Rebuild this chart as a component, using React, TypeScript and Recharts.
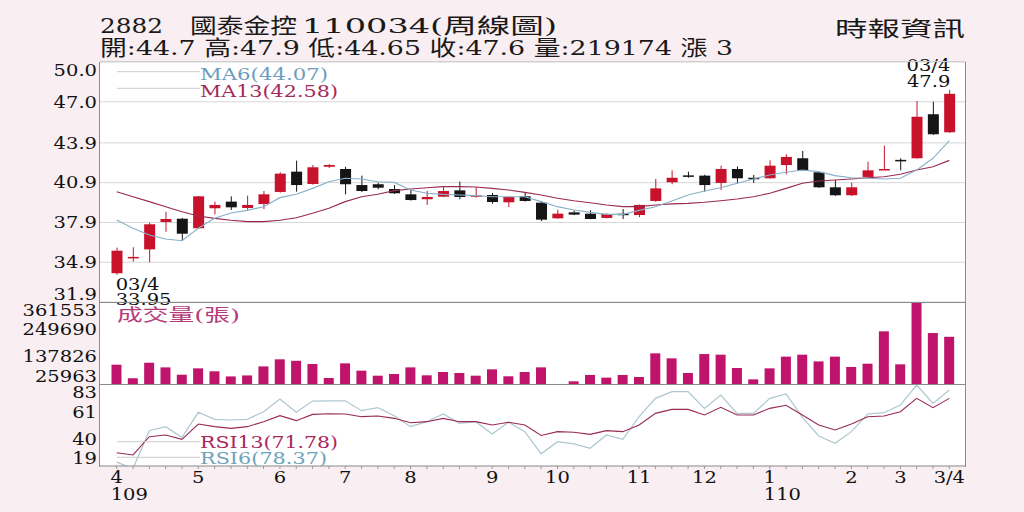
import React from 'react';
import { ComposedChart, Bar, Line, XAxis, YAxis, CartesianGrid, ReferenceDot } from 'recharts';

// weekly candles, 109/04 .. 110/03/04
const opens = [34.07, 35.2, 35.87, 37.93, 38.18, 37.46, 38.97, 39.47, 38.99, 39.29, 40.2, 41.73, 40.8, 42.1, 41.93, 40.72, 40.78, 40.42, 40.02, 39.65, 39.84, 40.32, 39.9, 39.97, 39.42, 39.87, 39.39, 38.21, 38.66, 38.56, 38.24, 38.56, 38.46, 39.52, 40.93, 41.45, 41.43, 40.88, 41.93, 41.27, 41.23, 42.23, 42.74, 41.68, 40.55, 39.95, 41.33, 41.88, 42.62, 42.74, 46.06, 44.7];
const highs = [36.0, 36.03, 37.88, 38.71, 38.24, 39.9, 39.47, 39.87, 39.92, 40.27, 41.68, 42.56, 42.23, 42.3, 42.1, 41.43, 40.9, 40.72, 40.37, 40.27, 40.57, 40.98, 40.57, 40.12, 39.87, 40.12, 39.52, 38.86, 38.8, 38.81, 38.58, 38.91, 39.25, 41.18, 41.83, 41.73, 41.5, 42.18, 42.13, 41.48, 42.59, 43.04, 43.29, 41.73, 41.1, 40.9, 42.48, 43.69, 42.74, 47.06, 47.01, 47.9];
const lows = [33.95, 34.94, 34.89, 37.2, 36.55, 37.4, 38.51, 38.84, 38.84, 38.91, 40.15, 40.22, 40.75, 42.0, 40.02, 40.2, 40.4, 40.05, 39.55, 39.22, 39.8, 39.65, 39.77, 39.31, 39.06, 39.47, 38.0, 38.18, 38.45, 38.14, 38.2, 38.16, 38.3, 39.45, 40.78, 41.27, 40.22, 40.35, 40.85, 40.88, 41.2, 41.53, 41.8, 40.5, 39.9, 39.9, 41.3, 41.85, 41.83, 42.7, 44.5, 44.65];
const closes = [35.77, 35.3, 37.76, 38.16, 37.05, 39.87, 39.22, 39.04, 39.22, 40.02, 41.58, 40.72, 42.06, 42.23, 40.78, 40.27, 40.52, 40.1, 39.59, 39.82, 40.27, 39.82, 39.95, 39.44, 39.82, 39.52, 38.11, 38.56, 38.49, 38.16, 38.54, 38.46, 39.22, 40.47, 41.27, 41.4, 40.72, 41.93, 41.23, 41.2, 42.18, 42.84, 41.83, 40.55, 39.95, 40.55, 41.83, 41.93, 42.57, 45.87, 44.55, 47.6];
const ma6 = [38.08, 37.46, 36.95, 36.65, 36.52, 37.46, 38.21, 38.61, 38.81, 39.09, 39.77, 40.02, 40.47, 40.97, 41.23, 41.18, 40.97, 40.92, 40.35, 40.1, 40.02, 39.97, 39.92, 39.84, 39.84, 39.84, 39.47, 39.09, 38.84, 38.66, 38.51, 38.51, 38.81, 39.09, 39.52, 39.97, 40.27, 40.52, 40.85, 41.18, 41.48, 41.68, 41.86, 41.73, 41.43, 41.27, 41.23, 41.18, 41.23, 41.86, 42.74, 44.07];
const ma13 = [40.22, 39.84, 39.47, 39.09, 38.71, 38.39, 38.21, 38.06, 37.96, 37.96, 38.06, 38.26, 38.59, 38.97, 39.47, 39.84, 40.02, 40.3, 40.42, 40.52, 40.6, 40.6, 40.57, 40.47, 40.35, 40.17, 39.97, 39.72, 39.54, 39.39, 39.22, 39.09, 39.09, 39.22, 39.3, 39.34, 39.42, 39.54, 39.67, 39.84, 40.1, 40.47, 40.85, 41.03, 41.1, 41.18, 41.27, 41.35, 41.53, 41.86, 42.1, 42.58];
const volumes = [105000, 49000, 113000, 94000, 64000, 90000, 78000, 57000, 61000, 98000, 127000, 121000, 108000, 50500, 110500, 80500, 60000, 67000, 94000, 61500, 75000, 71000, 60000, 86000, 57500, 75000, 94000, 25963, 37000, 63000, 52000, 63000, 54500, 151500, 131000, 71000, 148500, 146000, 91500, 45000, 90000, 138000, 146000, 118500, 138000, 95500, 109000, 241500, 106500, 361553, 234500, 219174];
const rsi6 = [22, 17, 46.6, 49.7, 41.4, 60.9, 55.4, 54.9, 55.4, 61.4, 71.3, 60.9, 69.7, 69.9, 69.9, 62.2, 64.5, 58.3, 49.7, 53.6, 59.6, 52.3, 53.6, 44.0, 53.1, 45.8, 28.5, 38.0, 36.2, 32.8, 43.2, 39.8, 57.5, 71.8, 77.0, 77.0, 64.0, 74.4, 60.1, 60.1, 71.8, 75.2, 57.0, 42.4, 36.7, 45.8, 59.6, 60.6, 66.6, 82.2, 67.9, 78.37];
const rsi13 = [29.4, 27.6, 41.9, 43.2, 39.8, 51.8, 49.7, 48.4, 49.7, 53.6, 58.3, 54.4, 59.3, 59.8, 59.6, 57.5, 58.0, 56.2, 52.8, 53.6, 56.2, 53.6, 53.6, 51.0, 53.1, 51.0, 42.8, 45.8, 45.3, 43.7, 46.6, 45.8, 51.0, 60.1, 63.2, 63.2, 58.8, 64.8, 58.8, 58.8, 64.0, 66.4, 58.8, 51.0, 47.1, 51.8, 57.5, 58.0, 61.4, 71.8, 64.5, 71.78];
const monthLabels = [
  '4', '', '', '', '', '5', '', '', '', '', '6', '', '', '', '7', '', '', '', '8', '', '', '', '',
  '9', '', '', '', '10', '', '', '', '', '11', '', '', '', '12', '', '', '', '1', '', '', '', '',
  '2', '', '', '3', '', '', '3/4',
];
const yearLabels: Record<number, string> = { 0: '109', 40: '110' };
const priceTicks = [31.9, 34.9, 37.9, 40.9, 43.9, 47.0, 50.0];
const volumeTicks = [25963, 137826, 249690, 361553];
const rsiTicks = [19, 40, 61, 83];

const data = opens.map((o, i) => ({
  idx: i,
  open: o,
  high: highs[i],
  low: lows[i],
  close: closes[i],
  range: [lows[i], highs[i]],
  volume: volumes[i],
  ma6: ma6[i],
  ma13: ma13[i],
  rsi6: rsi6[i],
  rsi13: rsi13[i],
}));

const BG = '#f9eef1';
const RED = '#c8122c';
const BLACK = '#151515';
const VOL = '#c0136b';
const NUM_FONT = '"DejaVu Serif", serif';
const CJK_FONT = '"DejaVu Serif", "Noto Sans CJK TC", serif';
const SX = 1.22;
const XPAD = { left: 8.5, right: 8.5 };

const Candle = (props: any) => {
  const { x, y, width, height, payload } = props;
  const { open, close, high, low } = payload;
  const color = close >= open ? RED : BLACK;
  const top = Math.min(y, y + height);
  const h = Math.abs(height);
  const k = high === low ? 0 : h / (high - low);
  const bodyTop = top + (high - Math.max(open, close)) * k;
  const bodyH = Math.max(Math.abs(open - close) * k, 1.5);
  const cx = x + width / 2;
  return (
    <g>
      <line x1={cx} x2={cx} y1={top} y2={top + h} stroke={color} strokeWidth={1} />
      <rect x={x} y={bodyTop} width={width} height={bodyH} fill={color} />
    </g>
  );
};

const makeYTick = (min: number, max: number, fmt: (v: number) => string) => (props: any) => {
  const { x, y, payload } = props;
  const v = payload.value;
  const dy = v === max ? 8 : v === min ? -8 : 0;
  return (
    <g transform={`translate(${x},${y + dy}) scale(${SX},1)`}>
      <text x={0} y={0} dy="0.36em" textAnchor="end" fontSize={16} fontFamily={NUM_FONT} fill="#111">
        {fmt(v)}
      </text>
    </g>
  );
};

const XTick = (props: any) => {
  const { x, y, payload } = props;
  const m = monthLabels[payload.value];
  const yr = yearLabels[payload.value];
  return (
    <g>
      {m ? (
        <g transform={`translate(${x},${y + 12}) scale(${SX},1)`}>
          <text x={0} y={0} textAnchor="middle" fontSize={16} fontFamily={NUM_FONT} fill="#111">{m}</text>
        </g>
      ) : null}
      {yr ? (
        <g transform={`translate(${x - 6},${y + 29}) scale(${SX},1)`}>
          <text x={0} y={0} textAnchor="start" fontSize={16} fontFamily={NUM_FONT} fill="#111">{yr}</text>
        </g>
      ) : null}
    </g>
  );
};

const HighLabel = (props: any) => {
  const vb = props.viewBox || { x: 0, y: 0, width: 0, height: 0 };
  const cx = vb.x + vb.width / 2;
  const cy = vb.y + vb.height / 2;
  return (
    <g>
      <g transform={`translate(${cx + 1},${cy - 19}) scale(${SX},1)`}>
        <text textAnchor="end" fontSize={16} fontFamily={NUM_FONT} fill="#111">03/4</text>
      </g>
      <g transform={`translate(${cx + 1},${cy - 3}) scale(${SX},1)`}>
        <text textAnchor="end" fontSize={16} fontFamily={NUM_FONT} fill="#111">47.9</text>
      </g>
    </g>
  );
};

const LowLabel = (props: any) => {
  const vb = props.viewBox || { x: 0, y: 0, width: 0, height: 0 };
  const cx = vb.x + vb.width / 2;
  const cy = vb.y + vb.height / 2;
  return (
    <g>
      <g transform={`translate(${cx - 1},${cy + 15}) scale(${SX},1)`}>
        <text textAnchor="start" fontSize={16} fontFamily={NUM_FONT} fill="#111">03/4</text>
      </g>
      <g transform={`translate(${cx - 1},${cy + 30}) scale(${SX},1)`}>
        <text textAnchor="start" fontSize={16} fontFamily={NUM_FONT} fill="#111">33.95</text>
      </g>
    </g>
  );
};

const legendText = (x: number, y: number, w: number, color: string, s: string, size = 17) => (
  <text x={x} y={y} fontSize={size} fontFamily={CJK_FONT} fill={color} textLength={w} lengthAdjust="spacingAndGlyphs">
    {s}
  </text>
);

export default function App() {
  return (
    <div style={{ position: 'fixed', left: 0, top: 0, width: 1024, height: 512, background: BG, overflow: 'hidden' }}>
      <svg width={1024} height={512} style={{ position: 'absolute', left: 0, top: 0 }}>
        <rect x={100} y={62} width={866} height={404} fill="#fff" />
        <g fontFamily={CJK_FONT} fontSize={21} fill="#1a1a1a">
          <text x={100} y={33} textLength={63} lengthAdjust="spacingAndGlyphs">2882</text>
          <text x={190} y={33} textLength={107} lengthAdjust="spacingAndGlyphs">國泰金控</text>
          <text x={302} y={33} textLength={255} lengthAdjust="spacingAndGlyphs">110034(周線圖)</text>
          <text x={100} y={55} textLength={633} lengthAdjust="spacingAndGlyphs">開:44.7 高:47.9 低:44.65 收:47.6 量:219174 漲 3</text>
          <text x={835} y={36} textLength={130} lengthAdjust="spacingAndGlyphs">時報資訊</text>
        </g>
      </svg>

      {/* price panel: plot area y 62..302 */}
      <div style={{ position: 'absolute', left: 0, top: 0 }}>
        <ComposedChart width={1024} height={322} data={data} margin={{ top: 62, right: 58, left: 0, bottom: 20 }}>
          <CartesianGrid vertical={false} stroke="#d6d6d6" />
          <XAxis dataKey="idx" type="category" scale="band" hide padding={XPAD} />
          <YAxis
            domain={[31.9, 50.0]}
            ticks={priceTicks}
            interval={0}
            allowDataOverflow
            width={100}
            tickSize={0}
            tickMargin={3}
            axisLine={false}
            tickLine={false}
            tick={makeYTick(31.9, 50.0, (v) => v.toFixed(1))}
          />
          <Line dataKey="ma13" stroke="#992a52" strokeWidth={1.1} dot={false} isAnimationActive={false} />
          <Line dataKey="ma6" stroke="#86b0c8" strokeWidth={1.1} dot={false} isAnimationActive={false} />
          <Bar dataKey="range" barSize={11} shape={<Candle />} isAnimationActive={false} />
          <ReferenceDot x={51} y={47.9} r={0} fill="none" stroke="none" label={<HighLabel />} />
          <ReferenceDot x={0} y={33.95} r={0} fill="none" stroke="none" label={<LowLabel />} />
        </ComposedChart>
      </div>

      {/* volume panel: plot area y 302..384 */}
      <div style={{ position: 'absolute', left: 0, top: 290 }}>
        <ComposedChart width={1024} height={106} data={data} margin={{ top: 12, right: 58, left: 0, bottom: 12 }}>
          <XAxis dataKey="idx" type="category" scale="band" hide padding={XPAD} />
          <YAxis
            domain={[25963, 361553]}
            ticks={volumeTicks}
            interval={0}
            allowDataOverflow
            width={100}
            tickSize={0}
            tickMargin={3}
            axisLine={false}
            tickLine={false}
            tick={makeYTick(25963, 361553, (v) => String(v))}
          />
          <Bar dataKey="volume" barSize={10} fill={VOL} isAnimationActive={false} />
        </ComposedChart>
      </div>

      {/* RSI panel: plot area y 384..466 */}
      <div style={{ position: 'absolute', left: 0, top: 372 }}>
        <ComposedChart width={1024} height={140} data={data} margin={{ top: 12, right: 58, left: 0, bottom: 0 }}>
          <XAxis
            dataKey="idx"
            type="category"
            scale="band"
            padding={XPAD}
            interval={0}
            height={46}
            tickSize={3}
            tickMargin={2}
            tickLine={{ stroke: '#999' }}
            axisLine={{ stroke: '#888' }}
            tick={<XTick />}
          />
          <YAxis
            domain={[19, 83]}
            ticks={rsiTicks}
            interval={0}
            allowDataOverflow
            width={100}
            tickSize={0}
            tickMargin={3}
            axisLine={false}
            tickLine={false}
            tick={makeYTick(19, 83, (v) => String(v))}
          />
          <Line dataKey="rsi6" stroke="#adc7d0" strokeWidth={1.2} dot={false} isAnimationActive={false} />
          <Line dataKey="rsi13" stroke="#992a52" strokeWidth={1.1} dot={false} isAnimationActive={false} />
        </ComposedChart>
      </div>

      <svg width={1024} height={512} style={{ position: 'absolute', left: 0, top: 0, pointerEvents: 'none' }}>
        <line x1={100} x2={966} y1={61.5} y2={61.5} stroke="#cfcfcf" />
        <line x1={99.5} x2={99.5} y1={62} y2={467} stroke="#8a8a8a" />
        <line x1={965.5} x2={965.5} y1={62} y2={467} stroke="#8a8a8a" />
        <line x1={100} x2={966} y1={302.5} y2={302.5} stroke="#8a8a8a" strokeWidth={1.2} />
        <line x1={100} x2={966} y1={384.5} y2={384.5} stroke="#8a8a8a" strokeWidth={1.2} />
        <line x1={117} x2={200} y1={71.7} y2={71.7} stroke="#cdcdcd" />
        <line x1={117} x2={200} y1={88.3} y2={88.3} stroke="#cdcdcd" />
        <line x1={117} x2={200} y1={441.7} y2={441.7} stroke="#cdcdcd" />
        <line x1={117} x2={200} y1={457.3} y2={457.3} stroke="#cdcdcd" />
        {legendText(200, 80, 128, '#6c9dbd', 'MA6(44.07)')}
        {legendText(200, 96.5, 138, '#a52a57', 'MA13(42.58)')}
        {legendText(117, 321, 123, '#b53c7a', '成交量(張)', 17)}
        {legendText(200, 448, 138, '#a8285a', 'RSI13(71.78)')}
        {legendText(200, 464, 127, '#6ea3bb', 'RSI6(78.37)')}
      </svg>
    </div>
  );
}
